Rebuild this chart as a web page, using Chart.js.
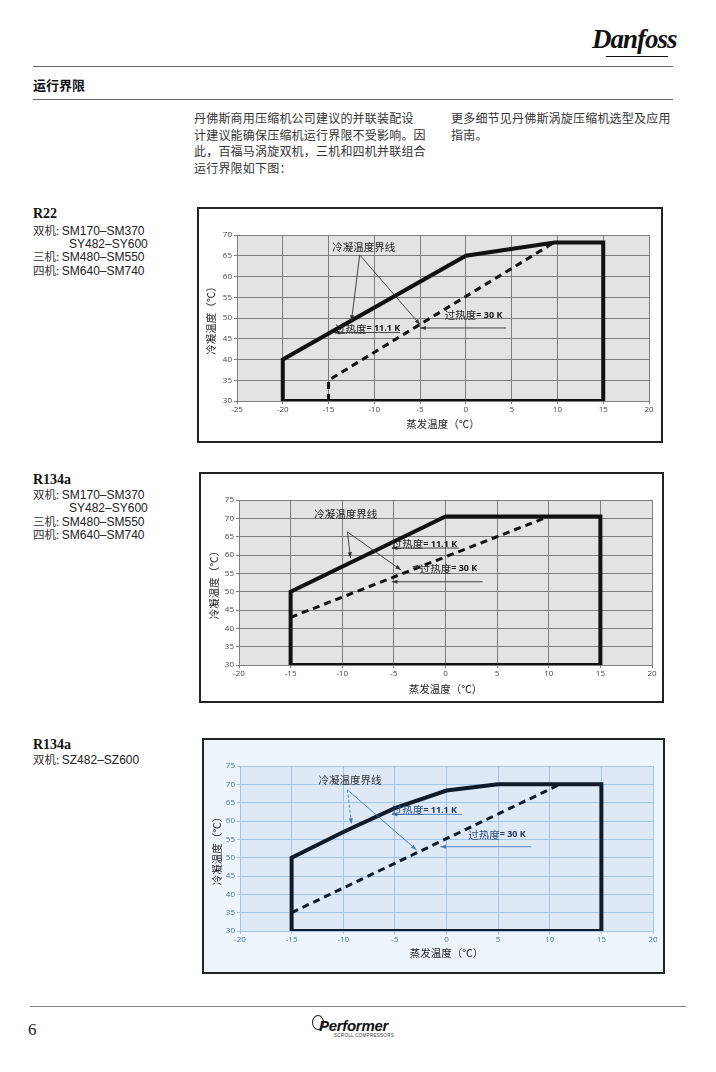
<!DOCTYPE html>
<html>
<head>
<meta charset="utf-8">
<script src="https://cdn.jsdelivr.net/npm/chart.js@4.4.0/dist/chart.umd.min.js"></script>
<style>
    body { margin: 0; width: 716px; height: 1072px; position: relative; overflow: hidden; background: #fff; color: #222; font-family: "Noto Sans CJK SC", sans-serif; }
    .rule { position: absolute; height: 0; border-top: 1.5px solid #666; }
    .txt { position: absolute; white-space: nowrap; line-height: 14px; }
    .para { font-size: 12px; letter-spacing: 0.2px; color: #333; }
    .lbl { left: 33px; font-size: 11.5px; color: #333; }
    .lbl .m { font-family: "Liberation Sans", Arial, sans-serif; font-size: 12px; color: #222; }
    .ref { left: 33px; font-family: "Liberation Serif", serif; font-weight: bold; font-size: 14px; color: #111; }
    .frame { position: absolute; border: 2px solid #222; box-sizing: border-box; background: #fff; }
    .frame canvas { position: absolute; left: 0; top: 0; }
</style>
</head>
<body>

<div class="txt" style="left:592px;top:22px;font-family:'Liberation Serif',serif;font-style:italic;font-weight:bold;font-size:27px;line-height:34px;letter-spacing:-1px;color:#111">Danfoss</div>
<div style="position:absolute;left:606px;top:56px;width:62px;border-top:1.5px solid #111"></div>
<div class="rule" style="left:33px;top:66px;width:640px"></div>
<div class="txt" style="left:33px;top:78px;font-size:13px;font-weight:bold;color:#111">运行界限</div>
<div class="rule" style="left:33px;top:99px;width:640px"></div>

<div class="txt para" style="left:194px;top:110px;line-height:16.7px">丹佛斯商用压缩机公司建议的并联装配设<br>计建议能确保压缩机运行界限不受影响。因<br>此，百福马涡旋双机，三机和四机并联组合<br>运行界限如下图：</div>
<div class="txt para" style="left:451px;top:110px;line-height:16.7px">更多细节见丹佛斯涡旋压缩机选型及应用<br>指南。</div>

<div class="txt ref" style="top:207px">R22</div>
<div class="txt lbl" style="top:223px">双机: <span class="m">SM170–SM370</span></div>
<div class="txt lbl" style="top:236px;left:69px"><span class="m">SY482–SY600</span></div>
<div class="txt lbl" style="top:249px">三机: <span class="m">SM480–SM550</span></div>
<div class="txt lbl" style="top:263px">四机: <span class="m">SM640–SM740</span></div>

<div class="txt ref" style="top:473px">R134a</div>
<div class="txt lbl" style="top:487px">双机: <span class="m">SM170–SM370</span></div>
<div class="txt lbl" style="top:500px;left:69px"><span class="m">SY482–SY600</span></div>
<div class="txt lbl" style="top:514px">三机: <span class="m">SM480–SM550</span></div>
<div class="txt lbl" style="top:527px">四机: <span class="m">SM640–SM740</span></div>

<div class="txt ref" style="top:738px">R134a</div>
<div class="txt lbl" style="top:752px">双机: <span class="m">SZ482–SZ600</span></div>

<div class="frame" style="left:197px;top:207px;width:466px;height:236px"><canvas id="c1" width="462" height="232"></canvas></div>
<div class="frame" style="left:199px;top:472px;width:465px;height:231px"><canvas id="c2" width="461" height="227"></canvas></div>
<div class="frame" style="left:202px;top:738px;width:463px;height:236px;background:#edf4fb"><canvas id="c3" width="459" height="232"></canvas></div>

<div class="rule" style="left:30px;top:1006px;width:656px;border-top-color:#888"></div>
<div class="txt" style="left:28px;top:1021px;font-family:'Liberation Serif',serif;font-size:17px;line-height:18px;color:#222">6</div>
<div style="position:absolute;left:312px;top:1015px;width:10px;height:13px;border:1.5px solid #222;border-radius:50%"></div>
<div class="txt" style="left:319px;top:1018px;font-family:'Liberation Sans',sans-serif;font-style:italic;font-weight:bold;font-size:15px;line-height:16px;color:#111;letter-spacing:-0.3px">Performer</div>
<div class="txt" style="left:334px;top:1033px;font-family:'Liberation Sans',sans-serif;font-size:4.5px;line-height:5px;color:#333;letter-spacing:0.3px">SCROLL COMPRESSORS</div>

<script>
// R22 并联
const r22SolidEvap = [-20, -20, 0, 9.7, 15, 15, -20];
const r22SolidCond = [30, 40, 65, 68.2, 68.2, 30, 30];
const r22DashEvap = [-15, -15, 9.5];
const r22DashCond = [30, 35, 68];
const r22XTicks = [-25, -20, -15, -10, -5, 0, 5, 10, 15, 20];
const r22YTicks = [30, 35, 40, 45, 50, 55, 60, 65, 70];

// R134a 并联 SM/SY
const smSolidEvap = [-15, -15, 0, 15, 15, -15];
const smSolidCond = [30, 50, 70.5, 70.5, 30, 30];
const smDashEvap = [-15, 10];
const smDashCond = [43, 70.5];

// R134a 并联 SZ
const szSolidEvap = [-15, -15, -10, -5, 0, 5, 15, 15, -15];
const szSolidCond = [30, 50, 57, 63.5, 68.3, 70, 70, 30, 30];
const szDashEvap = [-15, 11];
const szDashCond = [35, 70];

const r134XTicks = [-20, -15, -10, -5, 0, 5, 10, 15, 20];
const r134YTicks = [30, 35, 40, 45, 50, 55, 60, 65, 70, 75];

const CJK = '"Noto Sans CJK SC", sans-serif';
const SANS = '"Open Sans", "DejaVu Sans", sans-serif';

function pts(xs, ys) {
    return xs.map((v, i) => ({ x: v, y: ys[i] }));
}

function drawEnvelope(id, o) {
    // 灰色/蓝色绘图区背景 + 箭头和文字标注
    const deco = {
        id: 'deco' + id,
        beforeDraw(chart) {
            const a = chart.chartArea;
            chart.ctx.save();
            chart.ctx.fillStyle = o.plotBg;
            chart.ctx.fillRect(a.left, a.top, a.right - a.left, a.bottom - a.top);
            chart.ctx.restore();
        },
        afterDatasetsDraw(chart) {
            const { ctx, scales: { x, y } } = chart;
            ctx.save();
            o.arrows.forEach(a => {
                const x1 = x.getPixelForValue(a[0]), y1 = y.getPixelForValue(a[1]);
                const x2 = x.getPixelForValue(a[2]), y2 = y.getPixelForValue(a[3]);
                ctx.strokeStyle = o.arrowColor;
                ctx.fillStyle = o.arrowColor;
                ctx.lineWidth = 0.9;
                ctx.setLineDash(a[4] ? [3, 2] : []);
                ctx.beginPath();
                ctx.moveTo(x1, y1);
                ctx.lineTo(x2, y2);
                ctx.stroke();
                ctx.setLineDash([]);
                const ang = Math.atan2(y2 - y1, x2 - x1);
                ctx.beginPath();
                ctx.moveTo(x2, y2);
                ctx.lineTo(x2 - 6 * Math.cos(ang - 0.35), y2 - 6 * Math.sin(ang - 0.35));
                ctx.lineTo(x2 - 6 * Math.cos(ang + 0.35), y2 - 6 * Math.sin(ang + 0.35));
                ctx.closePath();
                ctx.fill();
            });
            ctx.textBaseline = 'middle';
            o.labels.forEach(t => {
                let px = x.getPixelForValue(t.x);
                const py = y.getPixelForValue(t.y);
                t.parts.forEach(p => {
                    ctx.font = p.font;
                    ctx.fillStyle = p.color;
                    ctx.fillText(p.text, px, py);
                    px += ctx.measureText(p.text).width;
                });
            });
            ctx.restore();
        }
    };

    new Chart(document.getElementById(id), {
        type: 'scatter',
        data: {
            datasets: [{
                data: pts(o.solidX, o.solidY),
                showLine: true,
                borderColor: o.lineColor,
                borderWidth: 4,
                borderJoinStyle: 'miter',
                borderCapStyle: 'square',
                pointRadius: 0
            }, {
                data: pts(o.dashX, o.dashY),
                showLine: true,
                borderColor: o.lineColor,
                borderWidth: 3,
                borderDash: [7, 5],
                pointRadius: 0
            }]
        },
        options: {
            responsive: false,
            animation: false,
            layout: { padding: { left: 0, top: 26, right: o.padRight, bottom: 0 } },
            plugins: { legend: { display: false }, tooltip: { enabled: false } },
            scales: {
                x: {
                    type: 'linear',
                    min: o.xTicks[0],
                    max: o.xTicks[o.xTicks.length - 1],
                    afterBuildTicks: s => { s.ticks = o.xTicks.map(v => ({ value: v })); },
                    afterFit: s => { s.height = o.xH; },
                    grid: { color: o.gridColor, lineWidth: 1, tickLength: 3 },
                    border: { color: o.gridColor },
                    ticks: { autoSkip: false, maxRotation: 0, padding: 1, color: o.tickColor, font: { family: SANS, size: 8 } },
                    title: { display: true, text: '蒸发温度（℃）', color: '#222', font: { family: CJK, size: 10.5 }, padding: { top: 0, bottom: o.xTitlePad } }
                },
                y: {
                    min: o.yTicks[0],
                    max: o.yTicks[o.yTicks.length - 1],
                    afterBuildTicks: s => { s.ticks = o.yTicks.map(v => ({ value: v })); },
                    afterFit: s => { s.width = o.yW; },
                    grid: { color: o.gridColor, lineWidth: 1, tickLength: 3 },
                    border: { color: o.gridColor },
                    ticks: { autoSkip: false, padding: 2, color: o.tickColor, font: { family: SANS, size: 8 } },
                    title: { display: true, text: '冷凝温度（℃）', color: '#222', font: { family: CJK, size: 10.5 }, padding: { top: o.yTitlePad, bottom: 0 } }
                }
            }
        },
        plugins: [deco]
    });
}

function note(x, y, cn, en, cnColor, enColor) {
    const parts = [{ text: cn, font: '10.5px ' + CJK, color: cnColor }];
    if (en) parts.push({ text: en, font: 'bold 9px ' + SANS, color: enColor });
    return { x: x, y: y, parts: parts };
}

drawEnvelope('c1', {
    solidX: r22SolidEvap, solidY: r22SolidCond, dashX: r22DashEvap, dashY: r22DashCond,
    xTicks: r22XTicks, yTicks: r22YTicks,
    yW: 38, xH: 40, padRight: 12, xTitlePad: 11, yTitlePad: 6,
    plotBg: '#e3e3e3', gridColor: '#7d7d7d', tickColor: '#444', lineColor: '#111', arrowColor: '#333',
    labels: [
        note(-14.6, 67.1, '冷凝温度界线', '', '#222', '#111'),
        note(-14.3, 47.4, '过热度', '= 11.1 K', '#222', '#111'),
        note(-2.3, 50.7, '过热度', '= 30 K', '#222', '#111')
    ],
    arrows: [
        [-11.6, 65.2, -12.5, 49.3],
        [-11.6, 65.2, -5, 48.4],
        [-7.2, 46.5, -14.4, 46.5],
        [4.4, 47.6, -5, 47.6]
    ]
});

drawEnvelope('c2', {
    solidX: smSolidEvap, solidY: smSolidCond, dashX: smDashEvap, dashY: smDashCond,
    xTicks: r134XTicks, yTicks: r134YTicks,
    yW: 38, xH: 36, padRight: 10, xTitlePad: 6, yTitlePad: 7,
    plotBg: '#e3e3e3', gridColor: '#7d7d7d', tickColor: '#444', lineColor: '#111', arrowColor: '#333',
    labels: [
        note(-12.7, 71.2, '冷凝温度界线', '', '#222', '#111'),
        note(-5.2, 63, '过热度', '= 11.1 K', '#222', '#111'),
        note(-2.5, 56.2, '过热度', '= 30 K', '#222', '#111')
    ],
    arrows: [
        [-9.5, 66.3, -9.2, 59.2],
        [-9.5, 66.3, -4.3, 55.9],
        [1.3, 61.9, -5.2, 61.9],
        [3.6, 52.7, -5.2, 52.7],
        [-2.2, 56.8, -3.2, 56.8]
    ]
});

drawEnvelope('c3', {
    solidX: szSolidEvap, solidY: szSolidCond, dashX: szDashEvap, dashY: szDashCond,
    xTicks: r134XTicks, yTicks: r134YTicks,
    yW: 36, xH: 41, padRight: 10, xTitlePad: 13, yTitlePad: 7,
    plotBg: '#dde9f6', gridColor: '#a3c6e6', tickColor: '#4572a8', lineColor: '#0f1a2a', arrowColor: '#4a7db5',
    labels: [
        note(-12.4, 71.2, '冷凝温度界线', '', '#333', '#111'),
        note(-5.3, 63, '过热度', '= 11.1 K', '#2d4f7c', '#1f3556'),
        note(2.1, 56.2, '过热度', '= 30 K', '#2d4f7c', '#1f3556')
    ],
    arrows: [
        [-9.6, 68.5, -9.2, 59.2, true],
        [-9.6, 68.5, -2.9, 52.1],
        [1.5, 61.8, -5.3, 61.8],
        [8.2, 53, -0.6, 53]
    ]
});
</script>
</body>
</html>
